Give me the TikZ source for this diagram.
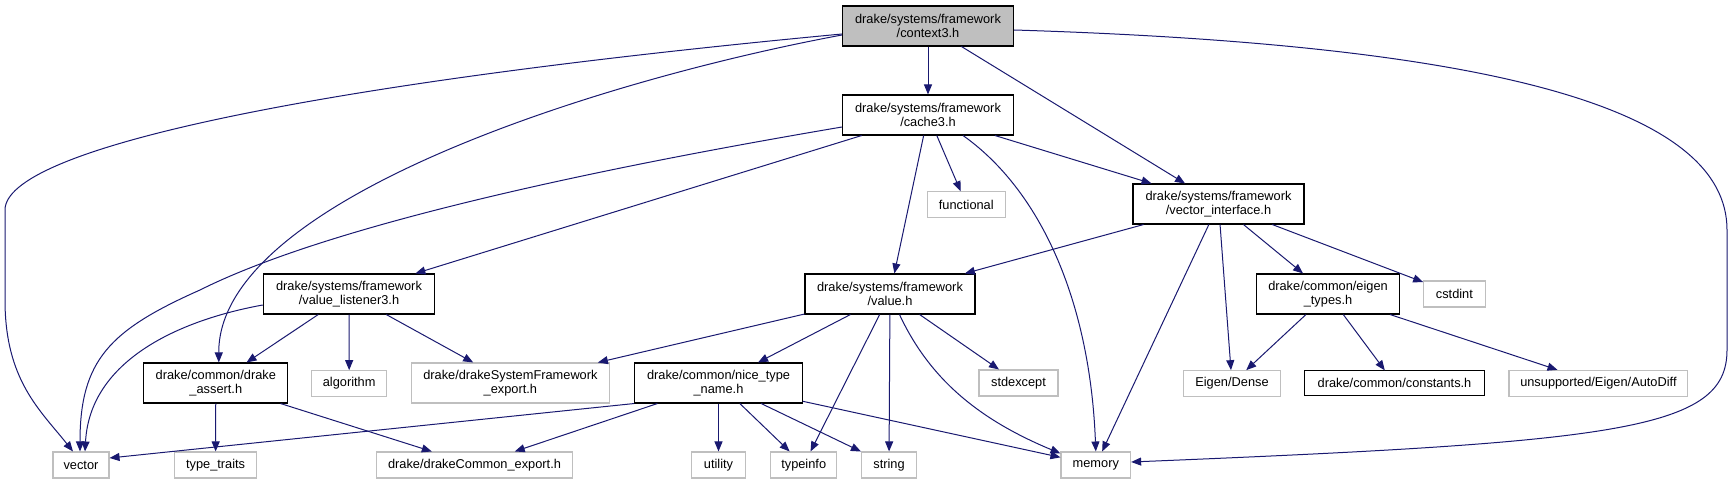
\documentclass[tikz,border=0pt]{standalone}
\usepackage{fontspec}
\setmainfont{Liberation Sans}
\usetikzlibrary{arrows.meta,calc}
\definecolor{edgecol}{HTML}{191970}
\definecolor{extgray}{HTML}{BFBFBF}
\definecolor{rootfill}{HTML}{BFBFBF}
\tikzset{
  box/.style={draw=black, line width=0.8pt, fill=white, inner sep=0pt, align=center,
    font=\fontsize{9.6}{10.6}\selectfont, text=black},
  ext/.style={box, draw=extgray},
  root/.style={box, fill=rootfill},
  wd/.style={minimum width=#1*0.75pt},
  ht/.style={minimum height=#1*0.75pt},
  lnk/.style={draw=edgecol, line width=0.75pt, -{Triangle[length=7.5pt,width=6pt]}},
}
\begin{document}
\begin{tikzpicture}[x=0.75pt,y=-0.75pt]
\useasboundingbox (0,0) rectangle (1734,484);
% nodes
\node[root,wd=171,ht=40] (ctx) at (928,26) {drake/systems/framework\\/context3.h};
\node[box,wd=171,ht=40] (cache) at (928,115) {drake/systems/framework\\/cache3.h};
\node[ext,wd=77.6,ht=25.6] (func) at (966.3,204.5) {functional};
\node[box,wd=171,ht=40] (vi) at (1218.5,204) {drake/systems/framework\\/vector\_interface.h};
\node[box,wd=171.4,ht=40] (vl3) at (349,294) {drake/systems/framework\\/value\_listener3.h};
\node[box,wd=144,ht=40] (assert) at (215.8,383) {drake/common/drake\\\_assert.h};
\node[ext,wd=74.6,ht=25.4] (algo) at (349.2,383.4) {algorithm};
\node[ext,wd=198,ht=40] (sysfw) at (510.4,383) {drake/drakeSystemFramework\\\_export.h};
\node[ext,wd=56,ht=26] (vec) at (81,465) {vector};
\node[ext,wd=82,ht=26] (tt) at (215.6,465) {type\_traits};
\node[ext,wd=196,ht=26] (common) at (474.5,465) {drake/drakeCommon\_export.h};
\node[box,wd=170,ht=40] (value) at (890,294) {drake/systems/framework\\/value.h};
\node[box,wd=167.6,ht=40] (ntn) at (718.5,383) {drake/common/nice\_type\\\_name.h};
\node[ext,wd=79,ht=26] (stdex) at (1018.5,383) {stdexcept};
\node[ext,wd=53.6,ht=26] (util) at (718.5,465) {utility};
\node[ext,wd=66,ht=26] (tinfo) at (803.7,465) {typeinfo};
\node[ext,wd=55,ht=26] (str) at (889,465) {string};
\node[ext,wd=69.6,ht=26] (mem) at (1095.8,465) {memory};
\node[box,wd=143,ht=40] (eig) at (1328,294) {drake/common/eigen\\\_types.h};
\node[ext,wd=61.4,ht=26] (cst) at (1454.4,294) {cstdint};
\node[ext,wd=96.6,ht=25.4] (dense) at (1232,383.4) {Eigen/Dense};
\node[box,wd=180,ht=25] (const) at (1394.5,383.4) {drake/common/constants.h};
\node[ext,wd=178.8,ht=26] (autod) at (1598.4,383.4) {unsupported/Eigen/AutoDiff};
% edges from context3
\draw[lnk] (ctx) -- (cache);
\draw[lnk] (ctx) -- (vi);
\draw[lnk] ($(ctx.west)+(0,8)$) .. controls (300,85) and (5,150) .. (5,210) -- (5,300) .. controls (5,380) and (40,410) .. ($(vec.north)+(-8,0)$);
\draw[lnk] ($(ctx.west)+(0,9)$) .. controls (600,80) and (218,200) .. ($(assert.north)+(3,0)$);
\draw[lnk] ($(ctx.east)+(0,4)$) .. controls (1500,45) and (1727,110) .. (1727,230) -- (1727,350) .. controls (1727,430) and (1620,442) .. ($(mem.east)+(0,-3)$);
% edges from cache3
\draw[lnk] ($(cache.west)+(0,12)$) .. controls (500,185) and (300,240) .. (200,290) .. controls (110,330) and (80,360) .. ($(vec.north)+(-1,0)$);
\draw[lnk] (cache) -- (vl3);
\draw[lnk] (cache) -- (value);
\draw[lnk] (cache) -- (func);
\draw[lnk] ($(cache.south)+(35,0)$) .. controls (1040,190) and (1090,300) .. (mem.north);
\draw[lnk] (cache) -- (vi);
% edges from vector_interface
\draw[lnk] (vi) -- (value);
\draw[lnk] (vi) -- (mem);
\draw[lnk] (vi) -- (dense);
\draw[lnk] (vi) -- (eig);
\draw[lnk] (vi) -- (cst);
% edges from eigen_types
\draw[lnk] (eig) -- (dense);
\draw[lnk] (eig) -- (const);
\draw[lnk] (eig) -- (autod);
% edges from value_listener3
\draw[lnk] ($(vl3.west)+(0,11)$) .. controls (180,320) and (90,360) .. ($(vec.north)+(4,0)$);
\draw[lnk] (vl3) -- (assert);
\draw[lnk] (vl3) -- (algo);
\draw[lnk] (vl3) -- (sysfw);
% edges from drake_assert
\draw[lnk] (assert) -- (tt);
\draw[lnk] (assert) -- (common);
% edges from value.h
\draw[lnk] (value) -- (sysfw);
\draw[lnk] (value) -- (ntn);
\draw[lnk] (value) -- (tinfo);
\draw[lnk] (value) -- (str);
\draw[lnk] ($(value.south)+(9.5,0)$) .. controls (930,380) and (980,420) .. ($(mem.north west)+(0,2)$);
\draw[lnk] (value) -- (stdex);
% edges from nice_type_name
\draw[lnk] (ntn.south west) -- ($(vec.east)+(0,-7)$);
\draw[lnk] (ntn) -- (common);
\draw[lnk] (ntn) -- (util);
\draw[lnk] (ntn) -- (tinfo);
\draw[lnk] (ntn) -- (str);
\draw[lnk] (ntn) -- (mem);
\end{tikzpicture}
\end{document}
